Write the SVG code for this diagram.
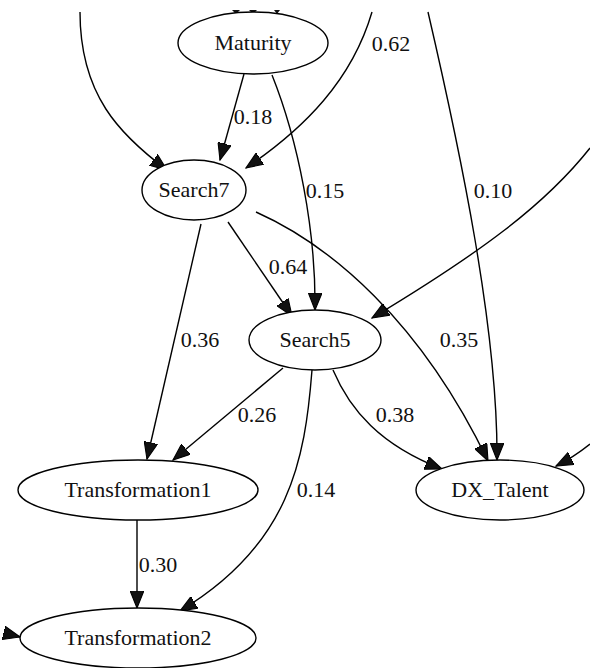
<svg xmlns="http://www.w3.org/2000/svg" width="590" height="668" viewBox="0 0 590 668">
  <style>
    .node ellipse { fill: #fff; stroke: #000; stroke-width: 1.4; }
    text { font-family: "Liberation Serif", "Times New Roman", Times, "DejaVu Serif", serif; font-size: 22px; fill: #111; text-anchor: middle; }
    .edges path { fill: none; stroke: #000; stroke-width: 1.4; marker-end: url(#ah); }
  </style>
  <defs>
    <marker id="ah" markerUnits="userSpaceOnUse" markerWidth="18" markerHeight="14" viewBox="0 0 16 12" refX="15" refY="6" orient="auto">
      <path d="M0,0 L15,6 L0,12 Z" fill="#111" stroke="#000" stroke-width="1"/>
    </marker>
  </defs>

  <g id="edges" class="edges">
    <!-- incoming from above into Search7 -->
    <path d="M80,12 C80,95 120,135 167,170"/>
    <!-- Maturity -> Search7 -->
    <path d="M244,74 L220,160"/>
    <!-- 0.62 into Search7 -->
    <path d="M372,12 C352,80 305,128 246,168"/>
    <!-- Maturity -> Search5 -->
    <path d="M272,75 C298,140 316,230 315,310"/>
    <!-- 0.10 into DX_Talent -->
    <path d="M428,12 C460,150 498,330 497,460"/>
    <!-- from right into Search5 -->
    <path d="M590,148 C545,205 480,253 372,318"/>
    <!-- Search7 -> Search5 -->
    <path d="M228,222 L292,316"/>
    <!-- Search7 -> DX_Talent -->
    <path d="M256,212 C330,245 420,320 488,461"/>
    <!-- Search7 -> Transformation1 -->
    <path d="M201,224 L147,459"/>
    <!-- Search5 -> Transformation1 -->
    <path d="M283,368 L173,460"/>
    <!-- Search5 -> DX_Talent -->
    <path d="M333,370 C350,410 380,445 442,469"/>
    <!-- Search5 -> Transformation2 -->
    <path d="M312,370 C305,460 290,545 180,611"/>
    <!-- Transformation1 -> Transformation2 -->
    <path d="M137,520 L137,608"/>
    <!-- from right into DX_Talent -->
    <path d="M590,444 C580,452 570,459 556,466"/>
    <!-- from left into Transformation2 -->
    <path d="M8,634 L20,637"/>
    <!-- arrow tips on top of Maturity -->
    <polygon points="232,10 240,10 236,14" fill="#111"/>
    <polygon points="249,10 257,10 253,14" fill="#111"/>
    <polygon points="274,10 280,10 277,14" fill="#111"/>
  </g>

  <g id="edge-labels">
    <text x="253" y="124">0.18</text>
    <text x="391" y="51">0.62</text>
    <text x="325" y="198">0.15</text>
    <text x="493" y="198">0.10</text>
    <text x="288" y="274">0.64</text>
    <text x="459" y="347">0.35</text>
    <text x="200" y="347">0.36</text>
    <text x="257" y="422">0.26</text>
    <text x="395" y="422">0.38</text>
    <text x="316" y="497">0.14</text>
    <text x="158" y="572">0.30</text>
  </g>

  <g id="Maturity" class="node">
    <ellipse cx="253" cy="43" rx="75" ry="31"/>
    <text x="253" y="50">Maturity</text>
  </g>
  <g id="Search7" class="node">
    <ellipse cx="194" cy="190" rx="52" ry="30"/>
    <text x="194" y="197">Search7</text>
  </g>
  <g id="Search5" class="node">
    <ellipse cx="315" cy="340" rx="66" ry="30"/>
    <text x="315" y="347">Search5</text>
  </g>
  <g id="Transformation1" class="node">
    <ellipse cx="138" cy="490" rx="120" ry="30"/>
    <text x="138" y="497">Transformation1</text>
  </g>
  <g id="DX_Talent" class="node">
    <ellipse cx="500" cy="490" rx="84" ry="30"/>
    <text x="500" y="497">DX_Talent</text>
  </g>
  <g id="Transformation2" class="node">
    <ellipse cx="138" cy="638" rx="118" ry="30"/>
    <text x="138" y="645">Transformation2</text>
  </g>
</svg>
